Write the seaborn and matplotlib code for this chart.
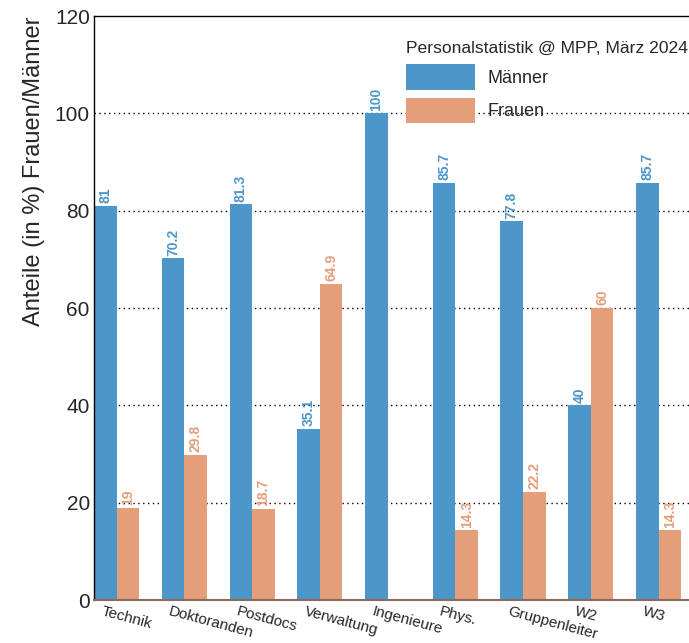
"""Personalstatistik MPP, Maerz 2024: Anteile Frauen/Maenner je Gruppe"""
import matplotlib
matplotlib.use("Agg")
import matplotlib.pyplot as plt
import numpy as np
import pandas as pd
import seaborn as sns

gruppen = ["Technik", "Doktoranden", "Postdocs", "Verwaltung", "Ingenieure",
           "Phys.", "Gruppenleiter", "W2", "W3"]
maenner = [81, 70.2, 81.3, 35.1, 100, 85.7, 77.8, 40, 85.7]
frauen = [19, 29.8, 18.7, 64.9, 0, 14.3, 22.2, 60, 14.3]

BLUE = "#4C96CA"
ORANGE = "#E49E7A"

df = pd.DataFrame({
    "Gruppe": gruppen * 2,
    "Anteil": maenner + frauen,
    "Geschlecht": ["Männer"] * len(gruppen) + ["Frauen"] * len(gruppen),
})

sns.set_style("white")
plt.rcParams["font.family"] = ["Liberation Sans", "DejaVu Sans"]

fig = plt.figure(figsize=(6.89, 6.43), dpi=100)
ax = fig.add_axes([94 / 689, 43 / 643, 609.75 / 689, 584 / 643])

sns.barplot(data=df, x="Gruppe", y="Anteil", hue="Geschlecht",
            hue_order=["Männer", "Frauen"], palette=[BLUE, ORANGE],
            width=2 / 3, saturation=1, linewidth=0, ax=ax, zorder=2)

n = len(gruppen)

# dotted grid behind bars
for y in range(20, 120, 20):
    ax.axhline(y, color="black", ls=(0, (1, 2.5)), lw=1, zorder=0.5)

# value labels
for cont, vals, col in zip(ax.containers, [maenner, frauen], [BLUE, ORANGE]):
    labs = [f"{v:g}" if v > 0 else "" for v in vals]
    ax.bar_label(cont, labels=labs, rotation=90, padding=2, color=col,
                 fontsize=10, fontweight="bold")

# y axis
ax.set_yticks(np.arange(0, 121, 20))
ax.set_yticks(np.arange(0, 121, 5), minor=True)
ax.tick_params(axis="y", which="major", direction="in", length=14, width=1,
               labelsize=15, pad=3, color="black")
ax.tick_params(axis="y", which="minor", direction="in", length=7.5, width=1,
               color="black")
ax.set_ylabel("Anteile (in %) Frauen/Männer", fontsize=17, loc="top")
ax.yaxis.set_label_coords(-0.08, 1.0)

# x axis
ax.set_xticks(np.arange(n) - 0.2)
ax.set_xticklabels(gruppen, rotation=-15, ha="left", va="top",
                   rotation_mode="anchor", fontsize=11)
ax.set_xticks(np.arange(-1 / 3, n - 0.4, 1 / 3), minor=True)
ax.tick_params(axis="x", which="major", length=0, pad=3)
ax.tick_params(axis="x", which="minor", direction="in", length=12, width=1,
               color="#222222")
ax.xaxis.set_zorder(0.5)
ax.set_xlabel("")

ax.set_xlim(-1 / 3, n - 1 / 3)
ax.set_ylim(0, 120)

for side in ["left", "top", "right"]:
    ax.spines[side].set_color("black")
    ax.spines[side].set_linewidth(1)
ax.spines["bottom"].set_color("#8a6a5a")
ax.spines["bottom"].set_linewidth(1.5)

# legend
handles, labels = ax.get_legend_handles_labels()
ax.legend(handles, labels, title="Personalstatistik @ MPP, März 2024",
          title_fontsize=12.6, fontsize=13, frameon=False, loc="upper left",
          bbox_to_anchor=(406 / 689, 1 - 41 / 643),
          bbox_transform=fig.transFigure, borderpad=0, borderaxespad=0,
          handlelength=3.8, handleheight=1.8, handletextpad=0.7,
          labelspacing=0.45, alignment="left")

fig.savefig("out.png", dpi=100)
